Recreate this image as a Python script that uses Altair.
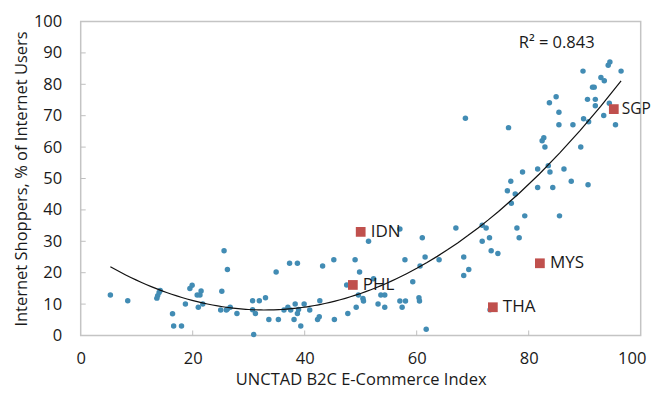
import altair as alt
import pandas as pd

# Blue scatter points (UNCTAD B2C index, internet shoppers %)
blue_x = [5.3, 8.4, 13.6, 13.75, 14.0, 14.2, 16.4, 16.6, 18.0, 18.7, 19.5, 19.9, 21.0, 20.8, 21.3,
          21.5, 21.8, 25.2, 25.6, 26.2, 25.0, 26.0, 26.2, 26.7, 27.9, 30.7, 31.9, 30.7, 31.2, 30.9,
          33.0, 33.6, 34.9, 35.3, 36.3, 37.0, 37.3, 37.5, 38.3, 38.7, 38.1, 38.7, 38.9, 39.3, 39.9,
          40.9, 42.7, 42.6, 42.3, 43.2, 45.2, 45.3, 47.7, 47.5, 49.0, 49.2, 49.8, 49.6,
          51.4, 57.0, 61.0, 67.0, 61.5, 57.9, 64.0, 68.4, 60.6, 69.3, 68.4, 59.3, 52.3, 50.4, 50.5,
          53.6, 54.3, 53.1, 54.3, 57.0, 58.0, 57.4, 60.4, 60.5, 61.7, 71.7, 72.4, 71.7, 73.0, 73.3,
          74.5, 77.9, 78.3, 79.3, 76.2, 76.8, 77.6, 76.9, 78.9, 81.6, 81.6, 83.5, 83.8, 84.3, 86.3,
          85.5, 87.6, 90.6, 89.3, 82.4, 82.7, 82.9, 76.4, 68.7, 83.7, 84.9, 85.4, 85.4, 87.9, 89.8,
          90.7, 89.7, 90.5, 91.4, 91.7, 91.9, 91.9, 92.9, 93.5, 93.4, 94.4, 94.2, 94.5, 96.5, 95.5,
          73.1]
blue_y = [12.9, 11.1, 11.9, 12.7, 13.7, 14.3, 6.9, 3.0, 3.0, 10.0, 15.0, 16.0, 9.0, 12.9, 12.9,
          14.2, 10.0, 14.1, 27.0, 21.0, 8.1, 8.1, 8.4, 9.0, 7.0, 11.1, 11.1, 8.2, 7.0, 0.3,
          12.0, 5.1, 20.2, 5.1, 8.1, 9.0, 23.0, 8.1, 10.0, 23.0, 5.1, 7.0, 8.3, 3.0, 10.0,
          8.1, 11.1, 6.0, 5.1, 22.1, 24.1, 5.1, 7.0, 16.1, 24.1, 9.0, 20.2, 12.9,
          30.0, 33.9, 31.1, 34.2, 25.0, 24.1, 24.1, 25.0, 22.1, 21.0, 19.1, 17.1, 18.1, 11.8, 11.0,
          12.9, 12.9, 10.0, 9.0, 11.0, 11.0, 9.0, 12.0, 11.0, 2.0, 35.1, 34.2, 30.0, 31.1, 27.0,
          26.1, 34.2, 31.1, 38.1, 46.1, 49.1, 45.1, 42.1, 52.1, 53.0, 47.1, 54.1, 52.1, 47.1, 53.0,
          38.1, 49.1, 48.0, 60.0, 62.0, 63.0, 60.0, 66.2, 69.2, 74.1, 76.0, 71.1, 67.1, 67.1, 69.0,
          68.1, 84.2, 75.2, 79.1, 79.1, 75.2, 73.2, 82.2, 81.1, 70.1, 74.0, 86.1, 87.1, 84.2, 67.1,
          8.2]

# Highlighted ASEAN economies
asean_names = ["SGP", "MYS", "THA", "IDN", "PHL"]
asean_x = [95.2, 82.0, 73.6, 50.0, 48.6]
asean_y = [72.1, 23.0, 9.0, 33.0, 16.1]

x_ticks = [20, 40, 60, 80]
y_ticks = [10, 20, 30, 40, 50, 60, 70, 80, 90]
x_labels = [0, 20, 40, 60, 80, 100]
y_labels = [0, 10, 20, 30, 40, 50, 60, 70, 80, 90, 100]

r2_text = ["R\u00b2 = 0.843"]
r2_x = [85.0]
r2_y = [93.0]

FONT = "Open Sans"
W, H = 560, 314

blue = pd.DataFrame({"x": blue_x, "y": blue_y})
asean = pd.DataFrame({"x": asean_x, "y": asean_y, "name": asean_names})
allpts = pd.DataFrame({"x": blue_x + asean_x, "y": blue_y + asean_y})

xscale = alt.Scale(domain=[0, 100], nice=False)
yscale = alt.Scale(domain=[0, 100], nice=False)

xaxis = alt.Axis(values=x_labels, tickSize=0, domain=False, grid=False,
                 labelFlush=False, labelOverlap=False,
                 labelOffset={"condition": {"test": "datum.value == 100", "value": -9}, "value": 0},
                 labelFontSize=16.5, labelFont=FONT, labelColor="#1a1a1a", labelPadding=15,
                 title="UNCTAD B2C E-Commerce Index", titleFontSize=16.5, titleFont=FONT,
                 titleFontWeight="normal", titleColor="#1a1a1a", titlePadding=5)
yaxis = alt.Axis(values=y_labels, tickSize=0, domain=False, grid=False,
                 labelOverlap=False, labelFlush=False,
                 labelFontSize=16.5, labelFont=FONT, labelColor="#1a1a1a", labelPadding=19,
                 title="Internet Shoppers, % of Internet Users", titleFontSize=16.5,
                 titleFont=FONT, titleFontWeight="normal", titleColor="#1a1a1a", titlePadding=4)

X0 = alt.X("x:Q", scale=xscale, axis=xaxis)
Y0 = alt.Y("y:Q", scale=yscale, axis=yaxis)

points = alt.Chart(blue).mark_circle(size=30, color="#428cb4", opacity=1).encode(x=X0, y=Y0)

trend = alt.Chart(allpts).transform_regression("x", "y", method="poly", order=2).mark_line(
    color="#111111", strokeWidth=1.2).encode(x=X0, y=Y0)

squares = alt.Chart(asean).mark_square(size=95, color="#c0504d", opacity=1).encode(x=X0, y=Y0)

labels = alt.Chart(asean).transform_filter("datum.name != 'SGP'").mark_text(
    align="left", baseline="middle", dx=10, fontSize=17, font=FONT, color="#1a1a1a"
).encode(x=X0, y=Y0, text="name:N")

label_sgp = alt.Chart(asean).transform_filter("datum.name == 'SGP'").mark_text(
    align="left", baseline="middle", dx=8, fontSize=15.5, font=FONT, color="#1a1a1a"
).encode(x=X0, y=Y0, text="name:N")

r2 = alt.Chart(pd.DataFrame({"x": r2_x, "y": r2_y, "t": r2_text})).mark_text(
    fontSize=16.5, font=FONT, color="#1a1a1a").encode(x=X0, y=Y0, text="t:N")

yt = alt.Chart(pd.DataFrame({"y": y_ticks})).mark_rule(color="#bfbfbf", strokeWidth=1).encode(
    y=Y0, x=alt.value(0), x2=alt.value(5))
xt = alt.Chart(pd.DataFrame({"x": x_ticks})).mark_rule(color="#bfbfbf", strokeWidth=1).encode(
    x=X0, y=alt.value(H), y2=alt.value(H - 5))

chart = alt.layer(points, yt, xt, trend, squares, labels, label_sgp, r2).properties(
    width=W, height=H,
    autosize=alt.AutoSizeParams(type="none"),
    padding={"left": 72.7, "top": 13.5, "right": 10, "bottom": 54.5},
    title=alt.TitleParams("(X-axis: Index, 0-100; Y-axis: Percent)", anchor="start", dx=-38,
                          offset=0, fontSize=16, font=FONT, fontWeight="normal",
                          color="#4a8fd4", baseline="bottom", frame="group"),
).configure_view(stroke="#c4c4c4", strokeWidth=1.5)

chart.save("out.html", embed_options={"renderer": "svg", "actions": False})
